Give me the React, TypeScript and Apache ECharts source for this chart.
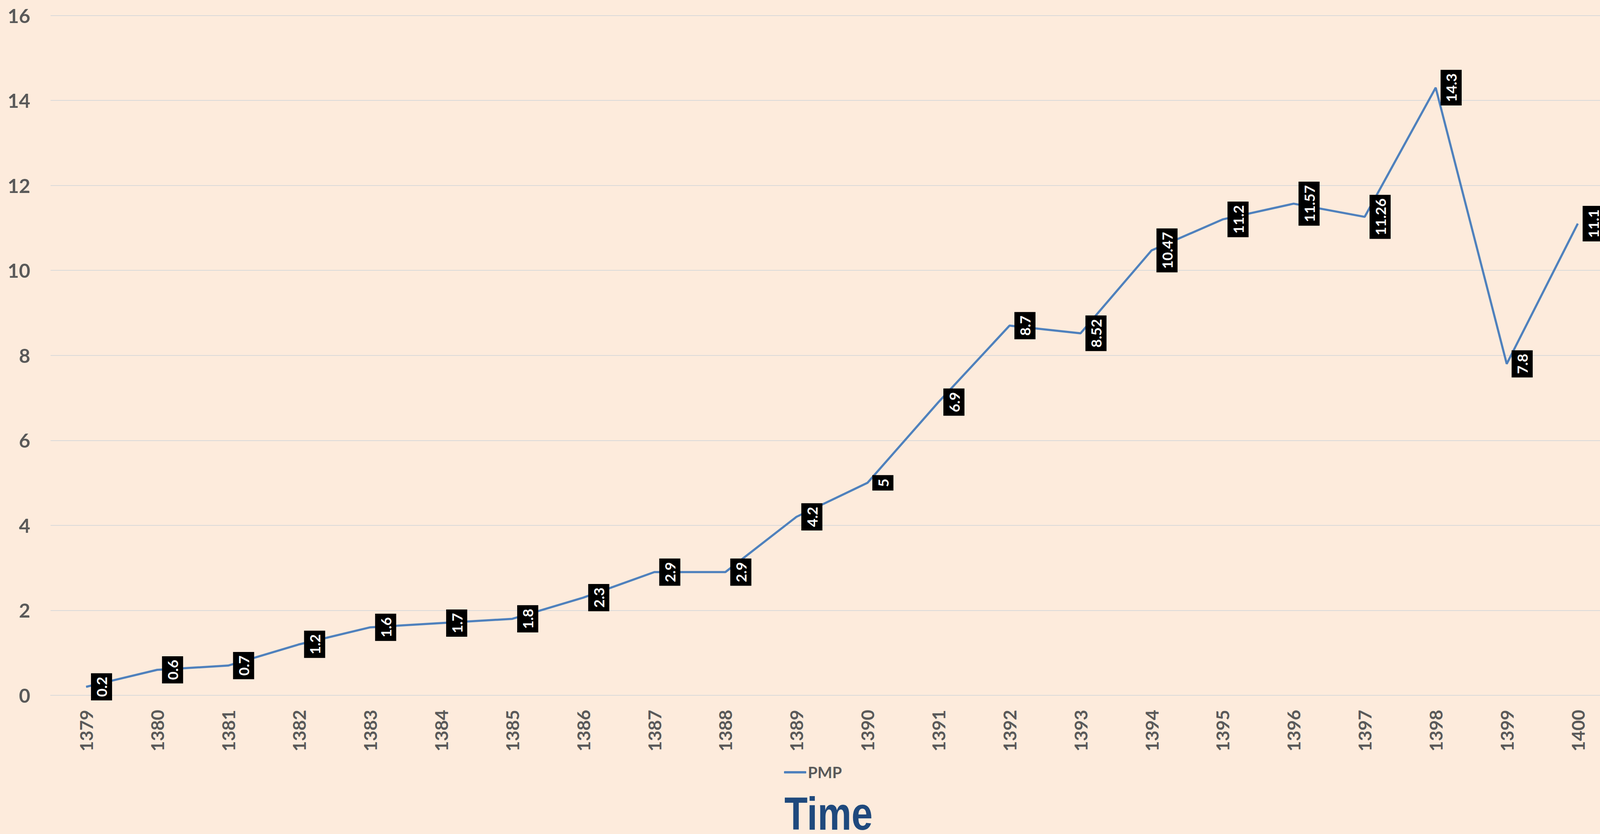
import React, { useEffect, useRef } from "react";
import * as echarts from "echarts";

const years = [
  "1379", "1380", "1381", "1382", "1383", "1384", "1385", "1386", "1387", "1388", "1389",
  "1390", "1391", "1392", "1393", "1394", "1395", "1396", "1397", "1398", "1399", "1400",
];
const pmp = [
  0.2, 0.6, 0.7, 1.2, 1.6, 1.7, 1.8, 2.3, 2.9, 2.9, 4.2,
  5, 6.9, 8.7, 8.52, 10.47, 11.2, 11.57, 11.26, 14.3, 7.8, 11.1,
];
const seriesName = "PMP";
const axisTitle = "Time";

export default function App() {
  const ref = useRef<HTMLDivElement>(null);

  useEffect(() => {
    document.body.style.margin = "0";
    document.body.style.overflow = "hidden";
    document.documentElement.style.overflow = "hidden";
    if (!ref.current) return;
    const chart = echarts.init(ref.current, undefined, { renderer: "svg" });
    const font = "Lato, 'Noto Sans', sans-serif";
    chart.setOption({
      animation: false,
      backgroundColor: "#FDEBDC",
      grid: { left: 129.5, right: -25.5, top: 39.5, bottom: 355, containLabel: false },
      legend: {
        data: [{ name: seriesName, icon: "roundRect" }],
        left: 2007,
        top: 1957,
        padding: 0,
        itemWidth: 57,
        itemHeight: 6,
        textStyle: {
          color: "#595959",
          fontSize: 40,
          fontWeight: "bold",
          fontFamily: font,
          padding: [0, 0, 0, -1],
        },
      },
      xAxis: {
        type: "category",
        data: years,
        boundaryGap: true,
        axisTick: { show: false },
        axisLine: { lineStyle: { color: "#D9D9D9", width: 2 } },
        axisLabel: {
          rotate: 90,
          margin: 37,
          color: "#595959",
          fontSize: 46,
          fontWeight: "bold",
          fontFamily: font,
        },
      },
      yAxis: {
        type: "value",
        min: 0,
        max: 16,
        interval: 2,
        axisLine: { show: false },
        axisTick: { show: false },
        splitLine: { lineStyle: { color: "#D9D9D9", width: 2 } },
        axisLabel: {
          margin: 52,
          color: "#595959",
          fontSize: 50,
          fontWeight: "bold",
          fontFamily: font,
        },
      },
      series: [
        {
          name: seriesName,
          type: "line",
          data: pmp,
          symbol: "circle",
          symbolSize: 1,
          showSymbol: true,
          lineStyle: { color: "#4F81BD", width: 5.5 },
          itemStyle: { color: "#4F81BD" },
          label: {
            show: true,
            position: "right",
            distance: 39,
            rotate: 90,
            align: "center",
            verticalAlign: "middle",
            color: "#FFFFFF",
            backgroundColor: "#000000",
            fontSize: 37,
            fontWeight: "bold",
            fontFamily: font,
            lineHeight: 40,
            padding: [7, 9],
          },
        },
      ],
      graphic: [
        {
          type: "text",
          x: 2121,
          y: 2082,
          scaleX: 0.82,
          style: {
            text: axisTitle,
            fill: "#1F497D",
            font: "bold 119px 'Liberation Sans', Arial, sans-serif",
            textAlign: "center",
            textVerticalAlign: "middle",
          },
        },
      ],
    });
    return () => chart.dispose();
  }, []);

  return <div ref={ref} style={{ width: 4130, height: 2135, background: "#FDEBDC" }} />;
}
